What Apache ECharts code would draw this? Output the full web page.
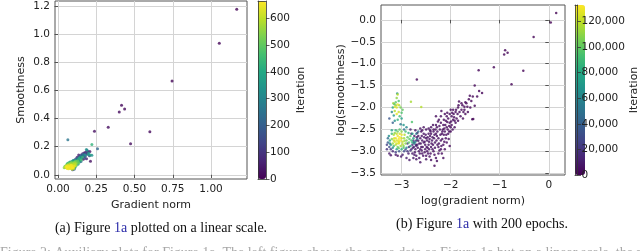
<!DOCTYPE html>
<html><head><meta charset="utf-8">
<script src="https://cdn.jsdelivr.net/npm/echarts@6/dist/echarts.min.js"></script>
<style>html,body{margin:0;padding:0;background:#fff}#c{width:640px;height:251px}</style>
</head><body><div id="c"></div>
<script>
// ---- tick labels ----
const ticksAx = [0, 0.25, 0.5, 0.75, 1.0];
const ticksAy = [0, 0.2, 0.4, 0.6, 0.8, 1.0, 1.2];
const ticksAc = [0, 100, 200, 300, 400, 500, 600];
const ticksBx = [-3, -2, -1, 0];
const ticksBy = [-3.5, -3, -2.5, -2, -1.5, -1, -0.5, 0];
const ticksBc = [0, 20000, 40000, 60000, 80000, 100000, 120000];
const iterMaxA = 665;
const iterMaxB = 133000;

// ---- panel (a): [gradient norm, smoothness, iteration] ----
const pointsA = [
 [1.168,1.176,3],[1.054,0.934,6],[0.745,0.667,10],[0.415,0.494,14],[0.400,0.446,18],[0.435,0.468,12],
 [0.328,0.337,22],[0.238,0.309,26],[0.600,0.306,16],[0.474,0.221,20],[0.064,0.249,260],[0.221,0.216,430],
 [0.258,0.185,220],[0.212,0.097,30],[0.221,0.138,330],[0.208,0.166,40],[0.181,0.154,150],[0.197,0.145,350],
 [0.186,0.114,60],[0.164,0.138,200],[0.142,0.125,170],[0.12,0.107,280],[0.098,0.102,380],
 [0.05,0.055,640],[0.055,0.05,655],[0.06,0.06,620],[0.065,0.052,610],[0.07,0.058,660],[0.072,0.065,600],
 [0.075,0.05,645],[0.078,0.062,630],[0.08,0.07,590],[0.083,0.055,650],[0.085,0.045,635],[0.088,0.06,615],
 [0.09,0.075,580],[0.092,0.065,625],[0.095,0.05,660],[0.098,0.08,570],[0.1,0.07,605],[0.102,0.06,640],
 [0.105,0.085,560],[0.108,0.075,595],[0.11,0.09,540],[0.112,0.065,620],[0.115,0.08,575],[0.118,0.095,520],
 [0.06,0.045,648],[0.067,0.07,585],[0.073,0.047,652],[0.082,0.082,555],[0.087,0.088,530],[0.093,0.04,600],
 [0.097,0.058,612],[0.103,0.045,585],[0.045,0.06,500],[0.048,0.052,420],[0.058,0.075,480],[0.062,0.08,380],
 [0.07,0.085,450],[0.078,0.09,350],[0.12,0.1,300],[0.125,0.11,230],[0.13,0.12,180],[0.135,0.105,250],
 [0.14,0.13,150],[0.145,0.125,320],[0.15,0.14,120],[0.155,0.135,200],[0.16,0.15,90],[0.165,0.145,260],
 [0.17,0.155,60],[0.175,0.14,310],[0.18,0.16,40],[0.19,0.175,280],[0.195,0.165,20],[0.2,0.155,340],
 [0.205,0.135,100],[0.21,0.14,380],[0.125,0.09,420],[0.13,0.095,470],[0.135,0.085,500],[0.14,0.1,360],
 [0.12,0.07,510],[0.115,0.06,450],[0.105,0.04,200],[0.11,0.05,300],[0.095,0.035,140],[0.085,0.09,410],
 [0.092,0.095,330],[0.1,0.1,260],[0.108,0.105,190],[0.116,0.112,130],[0.125,0.125,80],[0.135,0.14,50],
 [0.145,0.11,400],[0.155,0.12,170],[0.16,0.125,430],[0.17,0.13,110],[0.18,0.135,230],[0.185,0.18,330],
 [0.19,0.15,70],[0.14,0.09,270],[0.13,0.075,350],[0.15,0.095,240],[0.165,0.11,30],[0.175,0.12,160],
 [0.04,0.05,560],[0.052,0.065,600],[0.063,0.068,625],[0.068,0.043,640],[0.077,0.072,610],[0.086,0.068,655],
 [0.091,0.052,660],[0.101,0.052,630],[0.106,0.065,600],[0.057,0.058,662],[0.081,0.048,645],[0.074,0.075,540],
 [0.096,0.09,460],[0.104,0.095,390],[0.113,0.1,440],[0.128,0.1,490],[0.137,0.118,410],[0.147,0.13,290],
 [0.152,0.105,460],[0.122,0.082,530],[0.089,0.083,500],[0.066,0.078,520]
];

// ---- panel (b): [log gradient norm, log smoothness, iteration] ----
const pointsB = [
 [0.15,0.16,200],[0.04,-0.06,300],[-0.31,-0.39,500],[-0.89,-0.69,800],[-0.91,-0.79,900],[-0.84,-0.75,700],
 [-1.12,-1.08,1000],[-0.52,-1.16,600],[-1.43,-1.15,1200],[-0.76,-1.47,900],[-1.51,-1.5,1400],[-1.36,-1.67,1300],
 [-2.69,-1.36,2000],[-1.63,-1.81,1500],[-1.51,-1.96,1600],[-1.83,-1.86,1700],[-1.56,-2.27,1800],[-2.33,-3.33,2500],
 [-1.68,-1.9,1600],[-1.72,-1.98,1800],[-1.78,-2.05,1900],[-1.85,-2.0,2100],[-1.9,-2.1,2000],[-1.95,-2.05,2200],
 [-1.8,-2.2,2300],[-1.75,-2.25,2100],[-1.88,-2.25,2400],[-1.92,-2.3,2500],[-1.98,-2.2,2600],[-2.02,-2.35,2800],
 [-2.05,-2.25,2700],[-2.08,-2.45,3000],[-2.1,-2.3,2900],[-2.12,-2.55,3200],[-2.15,-2.4,3100],[-2.18,-2.6,3500],
 [-2.2,-2.35,3300],[-2.22,-2.5,3600],[-2.25,-2.7,3800],[-2.28,-2.45,3700],[-2.3,-2.6,4000],[-2.32,-2.8,4200],
 [-2.35,-2.55,4100],[-2.38,-2.75,4400],[-2.4,-2.9,4600],[-2.42,-2.65,4300],[-2.45,-2.85,4800],[-2.48,-3.0,5000],
 [-2.5,-2.7,4700],[-2.52,-2.95,5200],[-2.55,-2.8,5400],[-2.58,-3.05,5600],[-2.6,-2.9,5800],[-2.62,-2.7,5300],
 [-2.65,-3.0,6000],[-2.68,-2.85,6200],[-2.7,-3.1,6400],[-2.72,-2.95,6600],[-2.75,-2.8,7000],[-2.78,-3.05,7500],
 [-2.05,-2.6,2800],[-2.0,-2.45,2600],[-2.1,-2.7,3100],[-2.15,-2.85,3400],[-2.2,-2.95,3600],[-2.25,-3.05,3900],
 [-2.3,-3.15,4100],[-2.35,-3.0,4300],[-2.4,-3.2,4500],[-2.2,-2.75,3500],[-2.25,-2.9,3800],[-2.3,-2.4,3900],
 [-2.35,-2.5,4000],[-2.4,-2.45,4200],[-2.45,-2.6,4400],[-2.5,-2.5,4600],[-2.55,-2.6,5000],[-2.6,-2.55,5200],
 [-2.48,-2.75,4800],[-2.52,-2.85,5000],[-2.58,-2.75,5500],[-2.62,-2.95,5700],[-2.66,-2.65,6000],[-2.7,-2.75,6500],
 [-2.74,-2.65,7000],[-2.02,-2.15,2600],[-2.08,-2.2,2700],[-2.12,-2.15,2800],[-1.98,-2.4,2500],[-1.95,-2.28,2400],
 [-2.0,-2.55,2700],[-1.96,-2.5,2600],[-2.06,-2.5,2900],[-2.16,-2.5,3200],[-2.28,-2.65,3700],[-2.34,-2.7,4000],
 [-2.44,-2.95,4500],[-2.36,-2.85,4200],[-2.56,-3.1,5500],[-2.64,-3.15,5900],[-2.46,-3.05,4700],[-2.18,-3.05,3600],
 [-2.12,-2.95,3300],[-2.08,-2.8,3100],[-2.76,-3.15,7200],[-2.84,-3.2,8000],[-1.65,-2.1,1700],[-1.7,-2.15,1800],
 [-1.6,-2.0,1600],[-1.58,-1.85,1500],[-1.46,-1.75,1300],[-1.55,-1.75,1400],[-1.42,-1.62,1200],[-1.82,-2.1,2000],
 [-1.76,-1.95,1900],[-1.86,-2.15,2100],[-1.9,-2.35,2300],[-1.94,-2.15,2200],[-2.0,-2.05,2500],[-2.3,-2.2,3800],
 [-2.4,-2.6,4300],[-2.2,-2.2,3400],[-2.55,-2.45,5000],[-2.8,-2.6,9000],[-2.19,-2.08,3000],[-1.61,-1.73,1500],
 [-1.54,-2.26,1700],[-2.15,-3.15,3500],[-2.28,-3.22,4000],[-2.5,-3.1,5100],[-2.42,-2.52,4200],[-2.62,-2.48,5600],
 [-2.68,-2.58,6100],[-2.26,-2.32,3600],[-2.04,-2.72,2900],[-2.14,-2.62,3200],[-2.24,-2.82,3700],[-2.32,-2.92,4100],
 [-2.54,-2.68,5300],[-2.44,-2.78,4600],[-2.64,-2.82,5900],[-2.72,-2.52,6800],[-2.82,-2.5,9500],[-2.86,-3.05,9000],
 [-2.62,-3.25,6000],[-2.02,-2.88,2700],[-1.92,-2.45,2300],[-1.85,-2.3,2200],[-1.72,-2.05,1900],[-1.66,-1.98,1700],
 [-2.03,-2.42,2700],[-2.07,-2.33,2800],[-2.11,-2.4,2900],[-2.13,-2.48,3000],[-2.17,-2.55,3100],[-2.21,-2.62,3300],
 [-2.23,-2.42,3400],[-2.27,-2.55,3500],[-2.29,-2.75,3600],[-2.31,-2.5,3800],[-2.33,-2.62,3900],[-2.37,-2.68,4000],
 [-2.39,-2.82,4200],[-2.41,-2.55,4300],[-2.43,-2.72,4400],[-2.47,-2.68,4500],[-2.49,-2.9,4700],[-2.51,-2.62,4800],
 [-2.53,-2.78,4900],[-2.57,-2.9,5100],[-2.59,-2.65,5300],[-2.61,-2.82,5400],[-2.63,-3.05,5600],[-2.67,-2.92,5800],
 [-2.69,-2.68,6100],[-2.71,-2.85,6300],[-2.73,-3.02,6500],[-2.09,-2.62,3000],[-2.13,-2.78,3200],[-2.17,-2.72,3300],
 [-2.19,-2.88,3500],[-2.23,-2.98,3700],[-2.27,-2.85,3800],[-2.33,-3.08,4000],[-2.37,-2.95,4200],[-2.41,-3.05,4400],
 [-2.47,-2.92,4600],[-2.53,-3.02,5000],[-2.59,-2.98,5400],[-2.07,-2.12,2700],[-2.14,-2.28,2900],[-2.24,-2.28,3300],
 [-1.99,-2.32,2500],[-2.03,-2.55,2700],[-1.97,-2.12,2400],[-1.89,-2.05,2200],[-1.93,-2.22,2300],[-1.84,-1.95,2100],
 [-1.78,-1.9,1900],[-1.7,-1.88,1800],[-1.74,-2.1,1900],[-2.45,-2.48,4500],[-2.58,-2.52,5100],[-2.36,-2.4,4100],
 [-2.66,-2.76,6000],[-2.77,-2.92,7300],[-2.74,-3.08,7100],[-2.7,-3.18,6700],[-2.5,-3.18,5200],[-2.43,-3.12,4800],
 [-3.22,-3.09,6000],[-3.01,-3.12,9000],[-2.9,-3.15,10000],[-3.12,-3.08,8000],
 [-2.85,-2.9,15000],[-2.82,-2.98,18000],[-2.88,-2.82,22000],[-2.78,-2.85,14000],[-2.76,-2.75,20000],
 [-3.25,-2.9,30000],[-3.28,-2.8,40000],[-3.22,-2.95,20000],[-3.18,-3.0,15000],[-3.12,-3.02,25000],[-3.05,-3.0,35000],
 [-2.95,-3.0,30000],[-2.88,-3.0,20000],[-3.25,-3.05,8000],[-3.3,-2.85,25000],[-2.8,-2.95,15000],[-2.75,-2.9,12000],
 [-2.98,-3.08,10000],[-3.08,-3.1,5000],[-2.7,-2.88,10000],[-3.28,-2.7,45000],[-3.3,-2.95,18000],[-2.92,-2.96,26000],
 [-3.2,-2.6,90000],[-3.24,-2.75,80000],[-3.22,-2.85,70000],[-3.18,-2.92,60000],[-3.1,-2.95,75000],[-3.0,-2.95,85000],
 [-2.9,-2.92,65000],[-2.82,-2.88,70000],[-2.8,-2.75,88000],[-2.82,-2.65,95000],[-2.86,-2.58,85000],[-2.92,-2.55,92000],
 [-3.04,-2.5,96000],[-3.12,-2.52,88000],[-3.2,-2.52,78000],[-3.26,-2.65,65000],[-2.78,-2.6,72000],[-2.76,-2.7,80000],
 [-2.74,-2.82,60000],[-2.7,-2.6,55000],[-2.66,-2.55,50000],[-2.68,-2.72,45000],[-2.72,-2.78,62000],[-2.78,-2.8,82000],
 [-2.84,-2.72,98000],[-3.16,-2.88,90000],[-3.24,-2.82,55000],[-2.96,-2.92,95000],[-3.06,-2.93,100000],
 [-3.1,-2.75,125000],[-3.05,-2.8,128000],[-3.0,-2.7,122000],[-3.08,-2.65,130000],[-3.12,-2.85,118000],[-3.15,-2.7,126000],
 [-3.02,-2.88,115000],[-2.98,-2.78,120000],[-3.06,-2.72,132000],[-3.14,-2.78,127000],[-3.18,-2.82,112000],[-3.04,-2.6,124000],
 [-2.95,-2.7,113000],[-2.92,-2.82,110000],[-3.0,-2.62,129000],[-3.1,-2.6,121000],[-3.16,-2.62,116000],[-3.2,-2.72,108000],
 [-2.9,-2.75,105000],[-2.96,-2.88,106000],[-3.08,-2.9,104000],[-3.02,-2.75,131000],[-3.12,-2.7,128000],[-3.06,-2.82,126000],
 [-2.88,-2.68,100000],[-2.85,-2.8,98000],[-2.94,-2.62,117000],[-3.0,-2.55,110000],[-3.08,-2.55,103000],[-3.14,-2.58,109000],
 [-3.04,-2.68,133000],[-3.1,-2.82,123000],[-2.98,-2.84,119000],[-3.16,-2.75,121000],[-2.94,-2.76,114000],[-3.06,-2.77,127000],
 [-3.08,-1.7,120000],[-3.09,-1.68,70000],[-3.1,-1.78,110000],[-3.06,-1.85,95000],[-3.12,-1.88,100000],[-3.15,-1.92,90000],
 [-3.05,-1.95,115000],[-3.1,-2.0,125000],[-3.02,-2.0,105000],[-3.18,-2.0,80000],[-3.14,-2.08,118000],[-3.06,-2.1,122000],
 [-3.0,-2.12,95000],[-3.1,-2.15,128000],[-3.04,-2.2,90000],[-3.16,-2.18,70000],[-3.2,-2.1,60000],[-3.25,-2.25,35000],
 [-3.0,-2.25,75000],[-2.98,-2.05,100000],[-3.12,-1.95,108000],[-3.08,-2.28,85000],[-2.81,-1.87,115000],[-2.6,-1.99,118000],
 [-2.96,-2.4,70000],[-3.18,-2.35,40000],[-3.02,-2.38,55000],[-3.14,-2.3,65000],[-3.14,-1.98,125000],
 [-3.08,-1.93,130000],[-2.95,-2.5,50000],[-2.79,-2.33,95000],[-3.17,-1.9,112000],[-2.9,-2.45,60000]
];

const viridis = ['#440154','#482475','#414487','#355f8d','#2a788e','#21918c','#22a884','#44bf70','#7ad151','#bddf26','#fde725'];
const FONT = 'DejaVu Sans';
const minus = v => (v < 0 ? '\u2212' + String(Math.abs(v)) : String(v));

function mainAxis(gi, min, max, ticks, fmt, name, nameGap, isY) {
  return {
    type: 'value', gridIndex: gi, min: min, max: max,
    name: name, nameLocation: 'middle', nameGap: nameGap, nameRotate: isY ? 90 : 0,
    nameTextStyle: {fontFamily: FONT, fontSize: 11, color: '#222'},
    axisLine: {show: false},
    axisTick: {show: true, inside: false, length: 3.5, customValues: ticks, lineStyle: {color: '#333', width: 0.8}},
    axisLabel: {customValues: ticks, formatter: fmt, fontFamily: FONT, fontSize: 10.5, color: '#222', margin: 5},
    splitLine: {show: true, customValues: ticks, lineStyle: {color: '#d4d4d4', width: 1}}
  };
}
function frameAxis(gi, pos, min, max) {
  return {type: 'value', gridIndex: gi, position: pos, min: min, max: max, z: 10,
    axisLine: {show: true, onZero: false, lineStyle: {color: '#333', width: 0.8}},
    axisTick: {show: false}, axisLabel: {show: false}, splitLine: {show: false}};
}
function cbAxis(gi, max, ticks, gap) {
  return {type: 'value', gridIndex: gi, position: 'right', min: 0, max: max, z: 10,
    name: 'Iteration', nameLocation: 'middle', nameGap: gap, nameRotate: 90,
    nameTextStyle: {fontFamily: FONT, fontSize: 11, color: '#222'},
    axisLine: {show: true, onZero: false, lineStyle: {color: '#333', width: 0.8}},
    axisTick: {show: true, length: 3.5, customValues: ticks, lineStyle: {color: '#333', width: 0.8}},
    axisLabel: {customValues: ticks, fontFamily: FONT, fontSize: 10.5, color: '#222', margin: 4},
    splitLine: {show: false}};
}

const sortA = pointsA.slice().sort((a, b) => a[2] - b[2]);
const sortB = pointsB.slice().sort((a, b) => a[2] - b[2]);

const option = {
  animation: false,
  backgroundColor: '#fff',
  grid: [
    {left: 55, top: 1, width: 192, height: 178, show: true, borderColor: '#555', borderWidth: 1, backgroundColor: '#fff'},
    {left: 258, top: 1, width: 8, height: 178},
    {left: 381, top: 5, width: 184, height: 170, show: true, borderColor: '#555', borderWidth: 1, backgroundColor: '#fff'},
    {left: 575, top: 5, width: 10, height: 170}
  ],
  xAxis: [
    mainAxis(0, -0.02, 1.235, ticksAx, v => v.toFixed(2), 'Gradient norm', 14, false),
    frameAxis(1, 'bottom', 0, 1), frameAxis(1, 'top', 0, 1),
    mainAxis(2, -3.42, 0.33, ticksBx, v => minus(v), 'log(gradient norm)', 14, false),
    frameAxis(3, 'bottom', 0, 1), frameAxis(3, 'top', 0, 1)
  ],
  yAxis: [
    mainAxis(0, -0.03, 1.235, ticksAy, v => v.toFixed(1), 'Smoothness', 28, true),
    cbAxis(1, iterMaxA, ticksAc, 30), frameAxis(1, 'left', 0, iterMaxA),
    mainAxis(2, -3.54, 0.34, ticksBy, v => (v < 0 ? '\u2212' + Math.abs(v).toFixed(1) : v.toFixed(1)), 'log(smoothness)', 33, true),
    cbAxis(3, iterMaxB, ticksBc, 46), frameAxis(3, 'left', 0, iterMaxB)
  ],
  visualMap: [
    {type: 'continuous', seriesIndex: 0, dimension: 2, min: 0, max: iterMaxA, inRange: {color: viridis},
     left: 258, top: 1, itemWidth: 8, itemHeight: 178, padding: 0, calculable: false, hoverLink: false, orient: 'vertical'},
    {type: 'continuous', seriesIndex: 1, dimension: 2, min: 0, max: iterMaxB, inRange: {color: viridis},
     left: 575, top: 5, itemWidth: 10, itemHeight: 170, padding: 0, calculable: false, hoverLink: false, orient: 'vertical'}
  ],
  series: [
    {type: 'scatter', xAxisIndex: 0, yAxisIndex: 0, data: sortA, symbol: 'circle', symbolSize: 3, z: 5, silent: true},
    {type: 'scatter', xAxisIndex: 3, yAxisIndex: 3, data: sortB, symbol: 'circle', symbolSize: 2.5, z: 5, silent: true}
  ],
  graphic: [
    {type: 'text', x: 161, y: 228, style: {
      text: '{n|(a) Figure }{b|1a}{n| plotted on a linear scale.}', textAlign: 'center', textVerticalAlign: 'middle',
      rich: {n: {fill: '#111', fontFamily: 'Liberation Serif', fontSize: 14}, b: {fill: '#2a2aa8', fontFamily: 'Liberation Serif', fontSize: 14}}}},
    {type: 'text', x: 482, y: 224, style: {
      text: '{n|(b) Figure }{b|1a}{n| with 200 epochs.}', textAlign: 'center', textVerticalAlign: 'middle',
      rich: {n: {fill: '#111', fontFamily: 'Liberation Serif', fontSize: 14}, b: {fill: '#2a2aa8', fontFamily: 'Liberation Serif', fontSize: 14}}}},
    {type: 'text', x: 0, y: 246, style: {
      text: 'Figure 2: Auxiliary plots for Figure 1a. The left figure shows the same data as Figure 1a but on a linear scale, the right',
      fill: '#a8a8a8', fontFamily: 'Liberation Serif', fontSize: 14, textVerticalAlign: 'top'}}
  ]
};
const chart = echarts.init(document.getElementById('c'), null, {renderer: 'canvas'});
chart.setOption(option);
</script></body></html>
